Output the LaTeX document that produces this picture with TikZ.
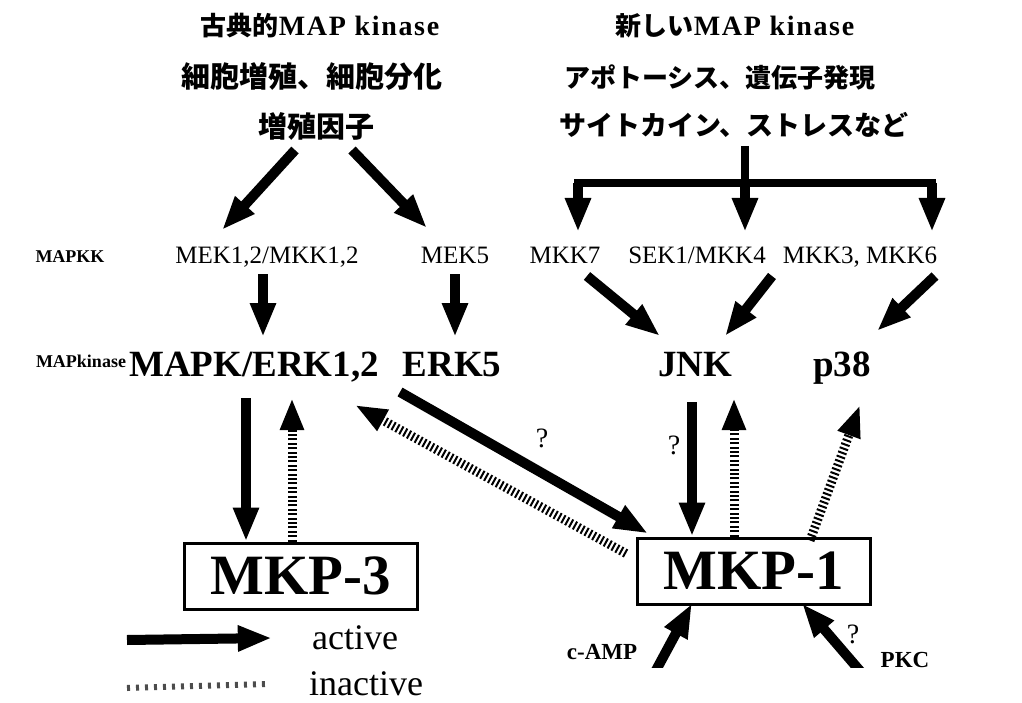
\documentclass[tikz,border=0pt]{standalone}
\usepackage{fontspec}
\setmainfont{Liberation Serif}
\newfontfamily\jp{Noto Sans CJK JP}
\usetikzlibrary{arrows.meta}
\begin{document}
\begin{tikzpicture}[x=1pt,y=-1pt,
  lab/.style={inner sep=0pt, anchor=center},
  bl/.style={inner sep=0pt, anchor=base},
  jpt/.style={lab, font=\jp\bfseries\fontsize{#1}{#1}\selectfont},
  kk/.style={bl, font=\fontsize{25}{25}\selectfont},
  mk/.style={bl, font=\bfseries\fontsize{37}{37}\selectfont},
  small/.style={bl, font=\bfseries\fontsize{18}{18}\selectfont},
  act/.style={line width=10pt, -{Triangle[length=34pt,width=24pt]}},
  inact/.style={line width=9pt, dash pattern=on 2pt off 2.4pt, -{Triangle[length=32pt,width=22pt]}},
  bracket/.style={line width=8pt},
  mkp/.style={draw, line width=3pt, minimum width=233pt, minimum height=66pt, inner sep=0pt,
              font=\bfseries\fontsize{57}{57}\selectfont},
  qm/.style={lab, font=\fontsize{28}{28}\selectfont}
]
\useasboundingbox (0,0) rectangle (1022,703);

% ---- titles
\node[jpt=26] (t1) at (320,26) {古典的{\rmfamily\fontsize{28}{28}\selectfont\addfontfeature{LetterSpace=6}MAP~kinase}};
\node[jpt=29] (t2) at (312,77) {細胞増殖、細胞分化};
\node[jpt=29] (gf) at (316,126) {増殖因子};
\node[jpt=26] (t4) at (735,26) {新しい{\rmfamily\fontsize{28}{28}\selectfont\addfontfeature{LetterSpace=6}MAP~kinase}};
\node[jpt=26] (t5) at (720,77) {アポトーシス、遺伝子発現};
\node[jpt=27] (cy) at (734,125) {サイトカイン、ストレスなど};

% ---- MAPKK row (baselines)
\node[small] (mapkk) at (70,262) {MAPKK};
\node[kk] (mek12) at (267,264) {MEK1,2/MKK1,2};
\node[kk] (mek5) at (455,264) {MEK5};
\node[kk] (mkk7) at (565,264) {MKK7};
\node[kk] (sek1) at (697,264) {SEK1/MKK4};
\node[kk] (mkk36) at (860,264) {MKK3, MKK6};

% ---- MAP kinase row
\node[small] (mapkin) at (81,367) {MAPkinase};
\node[mk] (mapk) at (254,376) {MAPK/ERK1,2};
\node[mk] (erk5) at (452,376) {ERK5};
\node[mk] (jnk) at (695,376) {JNK};
\node[mk] (p38) at (842,376) {p38};

% ---- phosphatases
\node[mkp] (mkp3) at (301,576) {MKP-3};
\node[mkp] (mkp1) at (754,571) {MKP-1};

% ---- bottom labels
\node[lab, font=\bfseries\fontsize{23}{23}\selectfont] (camp) at (602,652) {c-AMP};
\node[lab, font=\bfseries\fontsize{23}{23}\selectfont] (pkc) at (905,660) {PKC};
\node[lab, font=\fontsize{36}{36}\selectfont] (lact) at (355,638) {active};
\node[lab, font=\fontsize{36}{36}\selectfont] (linact) at (366,684) {inactive};

% ---- question marks
\node[qm] (q1) at (542,438) {?};
\node[qm] (q2) at (674,445) {?};
\node[qm] (q3) at (853,634) {?};

% ---- coordinates for free arrow ends
\coordinate (gfL) at (295,150);
\coordinate (gfR) at (352,150);
\coordinate (mek12t) at (222,230);
\coordinate (mek5t) at (427,228);
\coordinate (stemT) at (745,146);
\coordinate (stemB) at (745,183);
\coordinate (brL) at (578,183);
\coordinate (brR) at (932,183);
\coordinate (mkk7t) at (578,232);
\coordinate (sek1t) at (745,232);
\coordinate (mkk36t) at (932,232);
\coordinate (campT) at (640,700);
\coordinate (pkcT) at (885,700);
\coordinate (la) at (127,640);
\coordinate (lb) at (127,688);

% ---- arrows top
\draw[act] (gfL) -- (mek12t);
\draw[act] (gfR) -- (mek5t);
\draw[bracket] (stemT) -- (stemB);
\draw[bracket, line cap=rect] (brL) -- (brR);
\draw[act] (brL) -- (mkk7t);
\draw[act] (stemB) -- (sek1t);
\draw[act] (brR) -- (mkk36t);

% ---- MAPKK -> MAPK
\draw[act] (263,274) -- (263,337);
\draw[act] (455,274) -- (455,337);
\draw[act] (587,276) -- (660,336);
\draw[act] (772,276) -- (725,336);
\draw[act] (935,276) -- (877,331);

% ---- MAPK <-> MKP-3
\draw[act] (246,398) -- ([xshift=-55pt]mkp3.north);
\draw[inact] ([xshift=-9pt]mkp3.north) -- (292,398);

% ---- MAPK <-> MKP-1
\draw[act] (400,392) -- ([xshift=12pt,yshift=3pt]mkp1.north west);
\draw[inact] ([xshift=-10pt,yshift=-17pt]mkp1.north west) -- (355,405);

% ---- JNK, p38 <-> MKP-1
\draw[act] (692,402) -- ([xshift=-62pt]mkp1.north);
\draw[inact] ([xshift=-20pt]mkp1.north) -- (734,398);
\draw[inact] ([xshift=56pt,yshift=-4pt]mkp1.north) -- (860,405);

% ---- c-AMP, PKC -> MKP-1 (tails cut flat)
\begin{scope}
\clip (0,0) rectangle (1022,667);
\draw[act] (campT) -- ([xshift=-62pt,yshift=2pt]mkp1.south);
\draw[act] (pkcT) -- ([xshift=48pt,yshift=2pt]mkp1.south);
\end{scope}

% ---- legend
\draw[act] (la) -- ([xshift=-40pt]lact.west);
\draw[line width=6pt, dash pattern=on 3pt off 6pt, gray!60!black] (lb) -- ([xshift=-40pt]linact.west);
\end{tikzpicture}
\end{document}
